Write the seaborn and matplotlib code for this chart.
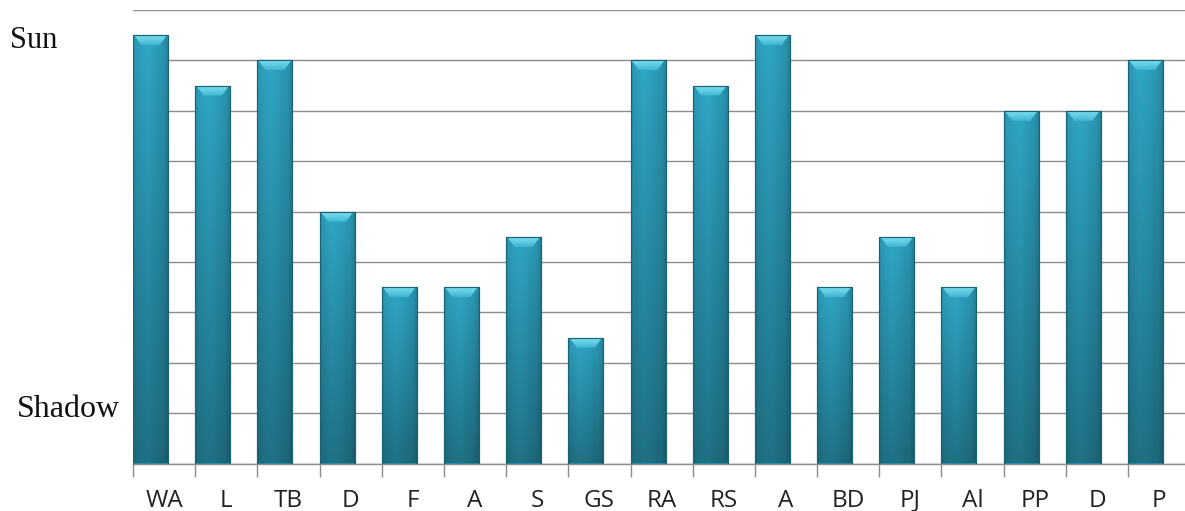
import numpy as np
import pandas as pd
import seaborn as sns
import matplotlib
matplotlib.use("Agg")
import matplotlib.pyplot as plt
from matplotlib.patches import Polygon
from matplotlib.colors import to_rgb

# Sun exposure score per site (0 = full shadow, 9 = full sun)
sites = ["WA", "L", "TB", "D", "F", "A", "S", "GS", "RA",
         "RS", "A", "BD", "PJ", "Al", "PP", "D", "P"]
exposure = [8.5, 7.5, 8.0, 5.0, 3.5, 3.5, 4.5, 2.5, 8.0,
            7.5, 8.5, 3.5, 4.5, 3.5, 7.0, 7.0, 8.0]
axis_labels = {"top": "Sun", "bottom": "Shadow"}

df = pd.DataFrame({"slot": list(range(len(sites))), "score": exposure})

sns.set_theme(style="white")
plt.rcParams["font.family"] = ["Open Sans", "DejaVu Sans"]

W, H = 1185, 511
fig = plt.figure(figsize=(W / 100, H / 100), dpi=100)
cat_px = 62.19
n = len(sites)
left_px, base_px, top_px = 133, 463.5, 10
ax = fig.add_axes([left_px / W, (H - base_px) / H,
                   n * cat_px / W, (base_px - top_px) / H])

bar_w = 35 / cat_px
sns.barplot(data=df, x="slot", y="score", order=list(range(n)),
            width=bar_w, color="#2a8fa8", saturation=1,
            edgecolor="#1b6272", linewidth=0.8, ax=ax, zorder=3)

sep_off = bar_w / 2
ax.set_xlim(-sep_off, n - sep_off)
ax.set_ylim(0, 9)

# horizontal gridlines
ax.set_yticks(np.arange(0, 10, 1))
ax.set_yticklabels([])
ax.tick_params(axis="y", length=0)
ax.yaxis.grid(True, color="#8c8c8c", linewidth=1.0)
ax.set_axisbelow(True)

# category separators as major ticks, names at category centres
ax.set_xticks(np.arange(n + 1) - sep_off)
ax.set_xticklabels([])
ax.set_xticks(np.arange(n) - sep_off + 0.5, minor=True)
ax.set_xticklabels(sites, minor=True, fontsize=17.5, color="#222222")
ax.tick_params(axis="x", which="major", length=9, width=1,
               color="#8c8c8c", direction="out", bottom=True)
ax.tick_params(axis="x", which="minor", length=0, pad=18)
ax.set_xlabel("")
ax.set_ylabel("")

for side in ["top", "right", "left"]:
    ax.spines[side].set_visible(False)
ax.spines["bottom"].set_color("#8c8c8c")
ax.spines["bottom"].set_linewidth(1.0)

# shaded body for each bar plus a bevelled cap
top_c = np.array(to_rgb("#2ea3c1"))
bot_c = np.array(to_rgb("#1f6f83"))
ny, nx = 200, 60
yy = np.linspace(1, 0, ny)[:, None]
xx = np.linspace(0, 1, nx)[None, :]
vert = bot_c[None, None, :] * (1 - yy[..., None]) + top_c[None, None, :] * yy[..., None]
horiz = 0.90 + 0.12 * np.exp(-((xx - 0.40) / 0.35) ** 2)
horiz = horiz - 0.10 * (xx > 0.88) * (xx - 0.88) / 0.12 - 0.08 * (xx < 0.06) * (0.06 - xx) / 0.06
body = np.clip(vert * horiz[..., None], 0, 1)

cap_light = np.array(to_rgb("#72d9ec"))
cap_mid = np.array(to_rgb("#3fb5d0"))
cy = np.linspace(0, 1, 40)[:, None, None]
cap_img = np.where(cy < 0.35, cap_light + (cap_mid - cap_light) * 0.2 * cy / 0.35,
                   cap_light + (cap_mid - cap_light) * (0.2 + 0.8 * (cy - 0.35) / 0.65))
cap_img = np.repeat(cap_img, 10, axis=1)

cap_h = 10 / ((base_px - top_px) / 9)
for patch in list(ax.patches):
    x0 = patch.get_x()
    w = patch.get_width()
    h = patch.get_height()
    x1 = x0 + w
    im = ax.imshow(body, extent=[x0, x1, 0, h], aspect="auto",
                   zorder=3.5, interpolation="bilinear")
    im.set_clip_path(patch)
    d = w * 0.24
    cap = Polygon([(x0 + 0.03 * w, h), (x1 - 0.03 * w, h),
                   (x1 - d, h - cap_h), (x0 + d, h - cap_h)],
                  closed=True, facecolor="none", edgecolor="none", zorder=4)
    ax.add_patch(cap)
    cim = ax.imshow(cap_img, extent=[x0, x1, h - cap_h, h], aspect="auto",
                    zorder=4.1, interpolation="bilinear")
    cim.set_clip_path(cap)
    edge = plt.Rectangle((x0, 0), w, h, facecolor="none",
                         edgecolor="#1b6272", linewidth=0.8, zorder=4.2)
    ax.add_patch(edge)

ax.set_xlim(-sep_off, n - sep_off)
ax.set_ylim(0, 9)

serif = ["Liberation Serif", "DejaVu Serif"]
fig.text(10 / W, 1 - 40 / H, axis_labels["top"], family=serif, fontsize=22,
         ha="left", va="center", color="#111111")
fig.text(17 / W, 1 - 409 / H, axis_labels["bottom"], family=serif, fontsize=23,
         ha="left", va="center", color="#111111")

fig.savefig("out.png", dpi=100)
